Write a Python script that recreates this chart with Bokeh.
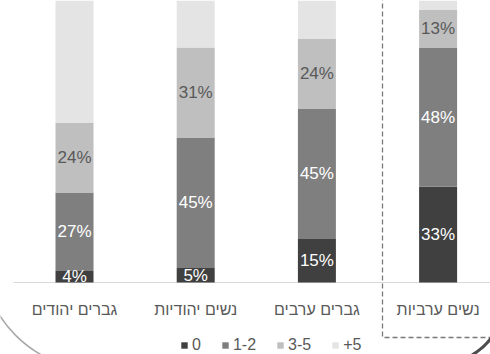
from bokeh.plotting import figure
from bokeh.models import Range1d, ColumnDataSource, Legend, LegendItem
from bokeh.core.properties import value
from bokeh.embed import file_html
from bokeh.resources import INLINE

# ---- data ----
categories = ["גברים יהודים", "נשים יהודיות", "גברים ערבים", "נשים ערביות"]
series_names = ["0", "1-2", "3-5", "+5"]
s_0 = [4, 5, 15, 33]
s_1_2 = [27, 45, 45, 48]
s_3_5 = [24, 31, 24, 13]
s_5p = [45, 19, 16, 6]
colors = ["#404040", "#7f7f7f", "#bfbfbf", "#e4e4e4"]
label_colors = ["#ffffff", "#ffffff", "#595959", None]

W, H = 490, 354
BASE_PX = 282.0      # pixel row of 0%
PX_PER_PCT = 2.9
X0_PX = 74.0
PX_PER_CAT = 121.2

def dx(px):
    return (px - X0_PX) / PX_PER_CAT

def dy(py):
    return (BASE_PX - py) / PX_PER_PCT

FONT_NAME = "Liberation Sans"
FONT = value(FONT_NAME)
GRAY_TXT = "#595959"

p = figure(width=W, height=H, output_backend="svg", toolbar_location=None,
           x_range=Range1d(dx(0), dx(W)), y_range=Range1d(dy(H), dy(0)),
           x_axis_location=None, y_axis_location=None, min_border=0)
p.outline_line_color = None
p.xgrid.visible = False
p.ygrid.visible = False
p.background_fill_color = "white"
p.border_fill_color = "white"

xs = list(range(len(categories)))
keys = ["s0", "s12", "s35", "s5p"]
data = dict(x=xs, s0=s_0, s12=s_1_2, s35=s_3_5, s5p=s_5p, cat=categories)
src = ColumnDataSource(data)

# baseline (category axis line)
p.segment(x0=[dx(13)], y0=[0], x1=[dx(W)], y1=[0], line_color="#d9d9d9", line_width=1)

renderers = p.vbar_stack(keys, x="x", width=38 / PX_PER_CAT, color=colors,
                         line_color=None, source=src)

# segment value labels
all_series = [s_0, s_1_2, s_3_5, s_5p]
bottom = [0] * len(categories)
for vals, tc in zip(all_series, label_colors):
    if tc is not None:
        ys = [b + v / 2 for b, v in zip(bottom, vals)]
        lab = ColumnDataSource(dict(x=xs, y=ys, t=[f"{v}%" for v in vals]))
        p.text(x="x", y="y", text="t", source=lab, text_align="center",
               text_baseline="middle", text_color=tc, text_font=FONT,
               text_font_size="17px")
    bottom = [b + v for b, v in zip(bottom, vals)]

# category labels
cat_src = ColumnDataSource(dict(x=xs, y=[dy(309)] * len(xs), t=categories))
p.text(x="x", y="y", text="t", source=cat_src, text_align="center",
       text_baseline="middle", text_color=GRAY_TXT, text_font=FONT,
       text_font_size="16px")

# dashed highlight box around last category
p.line(x=[dx(382), dx(382), dx(W + 5)], y=[dy(-5), dy(337), dy(337)],
       line_color="#7a7a7a", line_width=1.3, line_dash="5 3")

# decorative rounded frame corners
p.arc(x=[dx(100)], y=[dy(250)], radius=120, radius_units="screen",
      start_angle=200, end_angle=250, start_angle_units="deg", end_angle_units="deg",
      line_color="#a8a8a8", line_width=1.5)
p.arc(x=[dx(440)], y=[dy(300)], radius=63, radius_units="screen",
      start_angle=300, end_angle=335, start_angle_units="deg", end_angle_units="deg",
      line_color="#4d4d4d", line_width=3)

legend = Legend(items=[LegendItem(label=n, renderers=[r]) for n, r in zip(series_names, renderers)],
                orientation="horizontal", location=(180, 0),
                glyph_width=8, glyph_height=8, label_standoff=4, spacing=20,
                label_width=0, label_height=14,
                padding=0, margin=0, border_line_color=None,
                background_fill_alpha=0, label_text_font=FONT_NAME,
                label_text_font_size="16px", label_text_color=GRAY_TXT)
p.add_layout(legend)

open("out.html", "w").write(file_html(p, INLINE))
